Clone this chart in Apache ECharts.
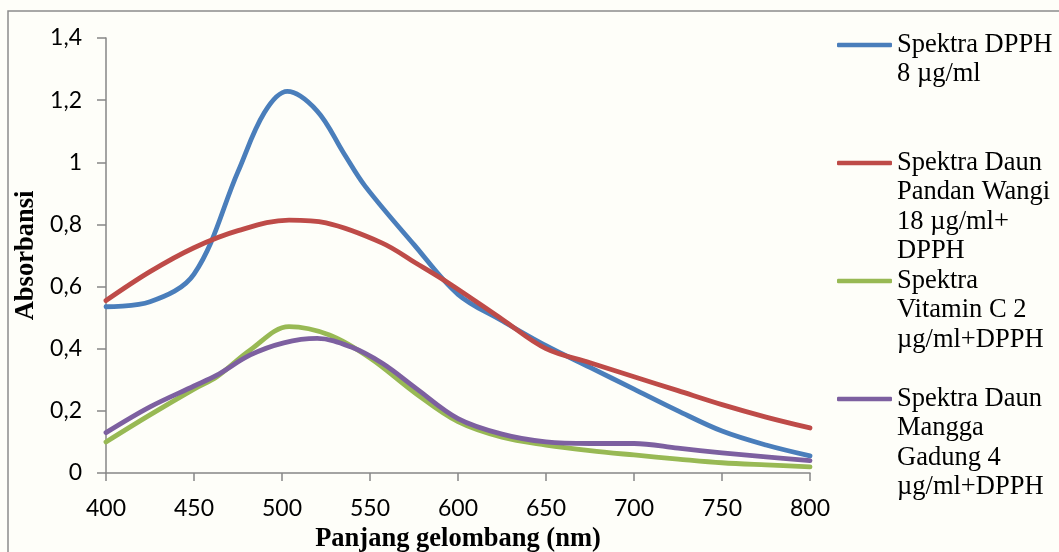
<!DOCTYPE html>
<html>
<head>
<meta charset="utf-8">
<script src="https://cdn.jsdelivr.net/npm/echarts@6/dist/echarts.min.js"></script>
<style>
html,body{margin:0;padding:0;background:#fefef9;}
#c{width:1059px;height:552px;}
</style>
</head>
<body>
<div id="c"></div>
<script>
// wavelengths (nm) and absorbance values, one pair of arrays per series
const dpphX     = [400,425,450,475,490,503,520,535,547,575,600,625,650,675,700,725,750,775,800];
const dpphY     = [0.535,0.551,0.64,0.97,1.16,1.228,1.165,1.03,0.925,0.735,0.575,0.49,0.41,0.34,0.27,0.20,0.135,0.09,0.055];
const pandanX   = [400,425,450,475,504,525,557,576,595,625,650,675,700,725,750,775,800];
const pandanY   = [0.555,0.648,0.725,0.78,0.814,0.805,0.74,0.676,0.61,0.495,0.40,0.355,0.31,0.265,0.22,0.18,0.145];
const vitCX     = [400,425,450,463,482,504,527,550,576,600,625,650,675,700,725,750,775,800];
const vitCY     = [0.10,0.187,0.27,0.31,0.396,0.471,0.444,0.37,0.256,0.165,0.115,0.09,0.072,0.058,0.045,0.033,0.026,0.02];
const manggaX   = [400,425,450,463,482,501,520,539,557,576,600,625,650,675,700,725,750,775,800];
const manggaY   = [0.13,0.213,0.28,0.315,0.38,0.419,0.433,0.406,0.353,0.273,0.175,0.125,0.10,0.095,0.095,0.08,0.065,0.052,0.04];

const seriesNames = ['Spektra DPPH 8 µg/ml','Spektra Daun Pandan Wangi 18 µg/ml+ DPPH','Spektra Vitamin C 2 µg/ml+DPPH','Spektra Daun Mangga Gadung 4 µg/ml+DPPH'];
const legendLines = [
  ['Spektra DPPH','8 µg/ml'],
  ['Spektra Daun','Pandan Wangi','18 µg/ml+','DPPH'],
  ['Spektra','Vitamin C 2','µg/ml+DPPH'],
  ['Spektra Daun','Mangga','Gadung 4','µg/ml+DPPH']
];
const yTicks = ['0','0,2','0,4','0,6','0,8','1','1,2','1,4'];

const colors = ['#4a7ebb','#be4b48','#98b954','#7d60a0'];
const allX = [dpphX, pandanX, vitCX, manggaX];
const allY = [dpphY, pandanY, vitCY, manggaY];
const LH = 29.3;
const iconY = [45, 163, 281, 399];

const chart = echarts.init(document.getElementById('c'));
const series = allY.map((vals, i) => ({
  name: seriesNames[i],
  type: 'line',
  smooth: 0.35,
  showSymbol: false,
  symbol: 'none',
  data: allX[i].map((w, k) => [w, vals[k]]),
  lineStyle: { color: colors[i], width: 4.8, cap: 'round', join: 'round' },
  itemStyle: { color: colors[i] }
}));

const legends = seriesNames.map((nm, i) => {
  const n = legendLines[i].length;
  const h = (2 * n - 1) * LH;
  return {
    data: [{ name: nm, icon: 'roundRect' }],
    left: 837,
    top: iconY[i] - h / 2,
    padding: 0,
    itemWidth: 55,
    itemHeight: 4.5,
    selectedMode: false,
    formatter: () => '\n'.repeat(n - 1) + legendLines[i].join('\n'),
    textStyle: { fontFamily: 'Liberation Serif', fontSize: 26.5, lineHeight: LH, color: '#000' }
  };
});

chart.setOption({
  backgroundColor: '#fefef9',
  animation: false,
  graphic: [{
    type: 'rect', shape: { x: 8, y: 11, width: 1100, height: 600 },
    style: { fill: 'none', stroke: '#8c8c8c', lineWidth: 1.5 }, silent: true, z: -1
  }],
  legend: legends,
  grid: { left: 106, right: 249, top: 38, bottom: 79, containLabel: false, outerBoundsMode: 'none' },
  xAxis: {
    type: 'value', min: 400, max: 800, interval: 50,
    name: 'Panjang gelombang (nm)', nameLocation: 'middle', nameGap: 53,
    nameTextStyle: { fontFamily: 'Liberation Serif', fontWeight: 'bold', fontSize: 26.5, color: '#000' },
    axisLine: { show: true, lineStyle: { color: '#868686', width: 1.5 } },
    axisTick: { show: true, length: 8, lineStyle: { color: '#868686', width: 1.5 } },
    axisLabel: { margin: 24, fontFamily: 'Lato', fontSize: 23, color: '#000' },
    splitLine: { show: false }
  },
  yAxis: {
    type: 'value', min: 0, max: 1.4, interval: 0.2,
    name: 'Absorbansi', nameLocation: 'middle', nameGap: 44, nameRotate: 90,
    nameTextStyle: { fontFamily: 'Liberation Serif', fontWeight: 'bold', fontSize: 26.5, color: '#000' },
    axisLine: { show: true, lineStyle: { color: '#868686', width: 1.5 } },
    axisTick: { show: true, length: 9, lineStyle: { color: '#868686', width: 1.5 } },
    axisLabel: { margin: 24, fontFamily: 'Lato', fontSize: 23, color: '#000',
      formatter: (v) => yTicks[Math.round(v / 0.2)] },
    splitLine: { show: false }
  },
  series: series
});
</script>
</body>
</html>
